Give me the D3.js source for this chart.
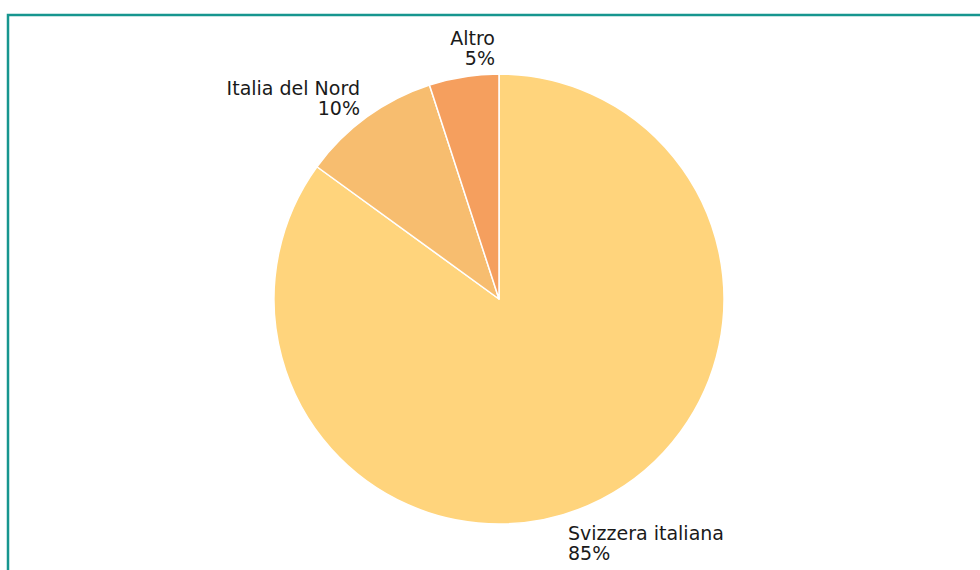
<!DOCTYPE html>
<html>
<head>
<meta charset="utf-8">
<script src="https://cdn.jsdelivr.net/npm/d3@7/dist/d3.min.js"></script>
<style>
  html, body { margin: 0; padding: 0; background: #ffffff; }
  svg { display: block; }
  text { font-family: "DejaVu Sans", sans-serif; font-size: 19px; fill: #1a1a1a; }
</style>
</head>
<body>
<svg id="chart" width="980" height="570"></svg>
<script>
// Provenienza (quote percentuali)
const categories = ["Svizzera italiana", "Italia del Nord", "Altro"];
const shares = [85, 10, 5];
const shareLabels = ["85%", "10%", "5%"];
const sliceColors = ["#ffd47c", "#f7bd6f", "#f59f5e"];

const width = 980, height = 570;
const cx = 499, cy = 299, radius = 225;

const svg = d3.select("#chart");

// Teal frame (runs off the right and bottom edges)
svg.append("path")
  .attr("d", `M8,${height + 5} L8,15 L${width + 5},15`)
  .attr("fill", "none")
  .attr("stroke", "#17968f")
  .attr("stroke-width", 2.5);

const data = categories.map((c, i) => ({ name: c, value: shares[i], label: shareLabels[i], color: sliceColors[i] }));

const pie = d3.pie().sort(null).value(d => d.value);
const arc = d3.arc().innerRadius(0).outerRadius(radius);
const arcs = pie(data);

const g = svg.append("g").attr("transform", `translate(${cx},${cy})`);

g.selectAll("path.slice")
  .data(arcs)
  .join("path")
  .attr("class", "slice")
  .attr("d", arc)
  .attr("fill", d => d.data.color)
  .attr("stroke", "#ffffff")
  .attr("stroke-width", 1.5)
  .attr("stroke-linejoin", "round");

// Label placement: anchor point near each slice's outer edge, text block aligned away from the pie
const labelLayout = {
  "Svizzera italiana": { x: 69, y: 241, anchor: "start" },
  "Italia del Nord":   { x: -139, y: -204, anchor: "end" },
  "Altro":             { x: -4, y: -254, anchor: "end" }
};

const labels = g.selectAll("text.lbl")
  .data(arcs)
  .join("text")
  .attr("class", "lbl")
  .attr("text-anchor", d => labelLayout[d.data.name].anchor)
  .attr("transform", d => `translate(${labelLayout[d.data.name].x},${labelLayout[d.data.name].y})`);

labels.append("tspan").attr("x", 0).attr("y", 0).text(d => d.data.name);
labels.append("tspan").attr("x", 0).attr("y", 20).text(d => d.data.label);
</script>
</body>
</html>
